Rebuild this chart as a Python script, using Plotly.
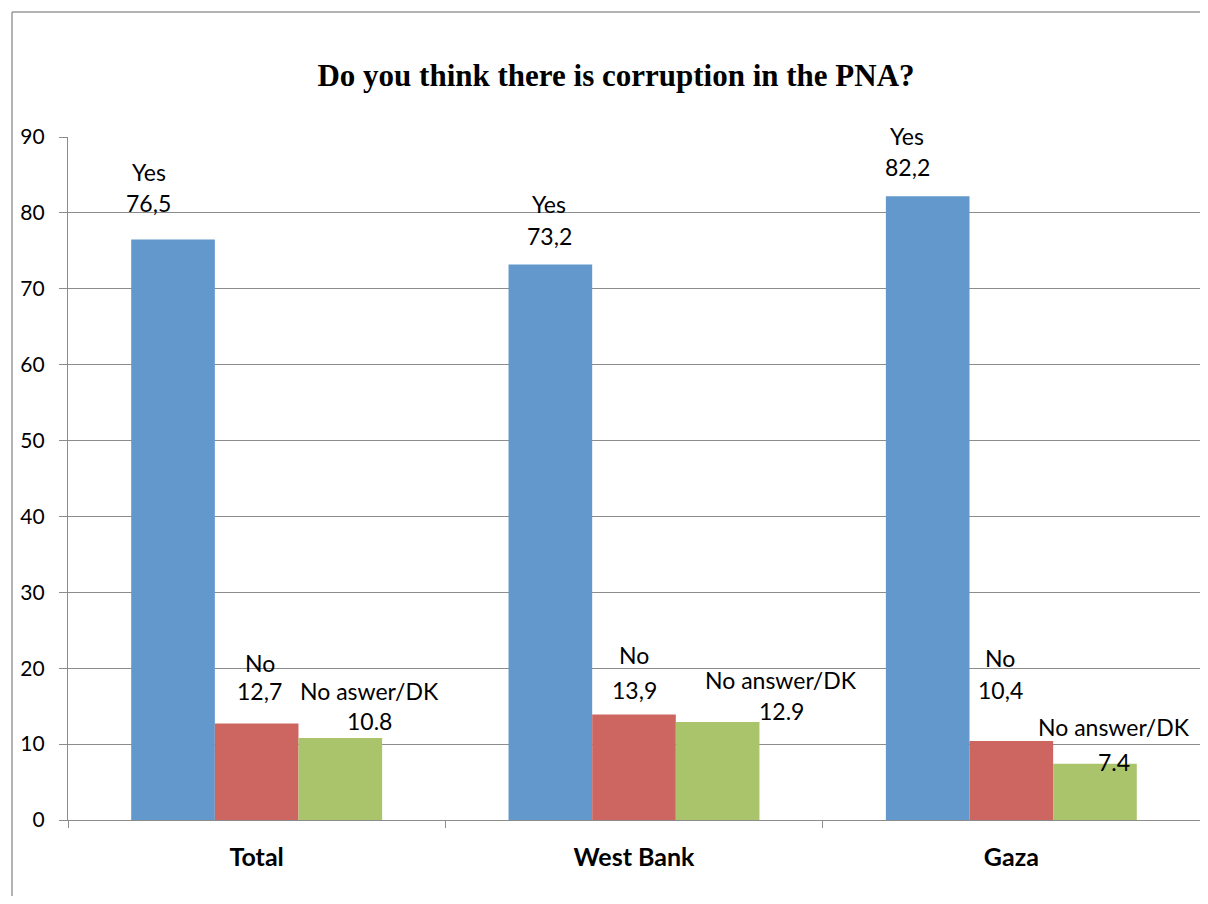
import plotly.graph_objects as go

categories = ["Total", "West Bank", "Gaza"]
series_names = ["Yes", "No", "No answer/DK"]
yes_values = [76.5, 73.2, 82.2]
no_values = [12.7, 13.9, 10.4]
na_values = [10.8, 12.9, 7.4]
# label texts as printed in the original chart
yes_labels = ["76,5", "73,2", "82,2"]
no_labels = ["12,7", "13,9", "10,4"]
na_labels = ["10.8", "12.9", "7.4"]
na_names = ["No aswer/DK", "No answer/DK", "No answer/DK"]
y_ticks = [0, 10, 20, 30, 40, 50, 60, 70, 80, 90]

colors = ["#6298CC", "#CD6660", "#AAC46C"]

# label placement (pixel offsets from category centre / bar top)
yes_dx = [-108, -85, -104]
no_dx = [3, 0, -11]
na_dx = [113, 147, 103]
yes_name_dy = [67, 60, 60]
yes_val_dy = [36, 28, 29]
no_name_dy = [61, 60, 83]
no_val_dy = [33, 25, 51]
na_name_dy = [47, 42, 37]
na_val_dy = [17, 11, 2]

FONT = "Lato, 'Open Sans', sans-serif"

fig = go.Figure()
for name, vals, col in zip(series_names, [yes_values, no_values, na_values], colors):
    fig.add_trace(go.Bar(x=categories, y=vals, name=name, marker=dict(color=col, line=dict(width=0)),
                         hoverinfo="x+y+name"))

annotations = []
groups = [
    ([series_names[0]] * 3, yes_labels, yes_values, yes_dx, yes_name_dy, yes_val_dy),
    ([series_names[1]] * 3, no_labels, no_values, no_dx, no_name_dy, no_val_dy),
    (na_names, na_labels, na_values, na_dx, na_name_dy, na_val_dy),
]
for names, labels, vals, dxs, ndys, vdys in groups:
    for i, cat in enumerate(categories):
        for txt, dy in ((names[i], ndys[i]), (labels[i], vdys[i])):
            annotations.append(dict(x=cat, y=vals[i], xref="x", yref="y", text=txt, showarrow=False,
                                    xshift=dxs[i], yshift=dy, xanchor="center", yanchor="middle",
                                    font=dict(family=FONT, size=23, color="#000000")))

# page body has an 8px margin; figure is sized to fit inside it
OFF = 8
W, H = 1208 - 2 * OFF, 904 - 2 * OFF
ml, mr, mt, mb = 68 - OFF, 0, 137 - OFF, H - (820 - OFF)
pw, ph = W - ml - mr, H - mt - mb

bx = (12 - OFF - ml) / pw
by = (H - mb - (12 - OFF)) / ph
shapes = [
    dict(type="line", xref="paper", yref="paper", x0=bx, x1=bx,
         y0=by, y1=-mb / ph, line=dict(color="#9a9a9a", width=1.5)),
    dict(type="line", xref="paper", yref="paper", x0=bx, x1=(W - ml) / pw,
         y0=by, y1=by, line=dict(color="#9a9a9a", width=1.5)),
]

fig.update_layout(
    width=W, height=H,
    margin=dict(l=ml, r=mr, t=mt, b=mb),
    paper_bgcolor="white", plot_bgcolor="white",
    barmode="group", bargap=0.335, bargroupgap=0,
    showlegend=False,
    title=dict(text="<b>Do you think there is corruption in the PNA?</b>", x=(616 - OFF) / W, xanchor="center",
               y=1 - (75 - OFF) / H, yanchor="middle", xref="container", yref="container",
               font=dict(family="'Liberation Serif', 'DejaVu Serif', serif", size=31, color="#000000")),
    annotations=annotations,
    shapes=shapes,
)
fig.update_yaxes(range=[0, 90], tickvals=y_ticks, showgrid=True, gridcolor="#8c8c8c", gridwidth=1.2,
                 showline=True, linecolor="#8c8c8c", linewidth=1.2, ticks="outside", ticklen=8,
                 tickcolor="#8c8c8c", ticklabelstandoff=10, zeroline=False,
                 tickfont=dict(family=FONT, size=21, color="#000000"))
fig.update_xaxes(showline=True, linecolor="#8c8c8c", linewidth=1.2, ticks="outside", ticklen=7,
                 tickcolor="#8c8c8c", tickson="boundaries", ticklabelstandoff=15,
                 tickfont=dict(family=FONT, size=25, color="#000000"),
                 tickvals=categories, ticktext=["<b>" + c + "</b>" for c in categories])

fig.write_html("out.html")
